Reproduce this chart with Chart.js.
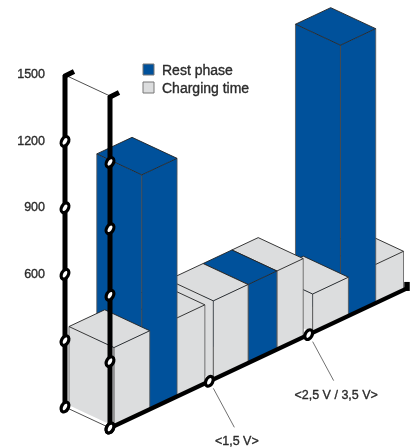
<!DOCTYPE html>
<html>
<head>
<meta charset="utf-8">
<style>
  html, body { margin: 0; padding: 0; background: #ffffff; }
  canvas { display: block; }
</style>
<script src="https://cdn.jsdelivr.net/npm/chart.js@4"></script>
</head>
<body>
<canvas id="chart" width="415" height="447"></canvas>
<script>
const categories = ['<1,5 V>', '<2,5 V / 3,5 V>', ''];
const chargingFront = [355, 355, 175];
const restPhase = [1076, 355, 1240];
const chargingBack = [355, 355, 175];
const yTickLabels = ['600', '900', '1200', '1500'];

// bar extents inside a category, as a fraction of the category width
const spansRegular = [[-0.46, -0.10], [-0.18, 0.175], [0.09, 0.455]];
const spansMiddle = [[-0.46, -0.11], [-0.11, 0.18], [0.18, 0.445]];
const barSpans = [spansRegular, spansMiddle, spansRegular];

const BLUE = '#00519b';
const GRAY = '#dcddde';
const TEXT = '#2b2b2b';
const FONT = 'Liberation Sans';
const DEPTH_X = 45;
const DEPTH_Y = 21;
const SLOPE = 0.47;

const polygon = (ctx, pts, fill) => {
    ctx.beginPath();
    pts.forEach((p, i) => i ? ctx.lineTo(p[0], p[1]) : ctx.moveTo(p[0], p[1]));
    ctx.closePath();
    ctx.fillStyle = fill;
    ctx.fill();
};

const line = (ctx, a, b, width, color) => {
    ctx.beginPath();
    ctx.moveTo(a[0], a[1]);
    ctx.lineTo(b[0], b[1]);
    ctx.lineWidth = width;
    ctx.strokeStyle = color;
    ctx.stroke();
};

const ring = (ctx, p) => {
    ctx.beginPath();
    ctx.ellipse(p[0], p[1], 3.4, 5.2, 0.5, 0, Math.PI * 2);
    ctx.fillStyle = '#ffffff';
    ctx.fill();
    ctx.lineWidth = 3.2;
    ctx.strokeStyle = '#000000';
    ctx.stroke();
};

// slightly heavier text, the reference print is denser than plain Liberation
const label = (ctx, text, px, py) => {
    ctx.lineWidth = 0.35;
    ctx.strokeStyle = TEXT;
    ctx.fillStyle = TEXT;
    ctx.strokeText(text, px, py);
    ctx.fillText(text, px, py);
};

const iso3d = {
    id: 'iso3d',
    // the bars are only drawn in the oblique view below
    beforeDatasetsDraw: () => false,
    afterDraw(chart) {
        const {ctx, scales: {x, y}, chartArea} = chart;
        const project = (px, py, d) => [
            px + d * DEPTH_X,
            py - (px - chartArea.left) * SLOPE + d * DEPTH_Y,
        ];
        const catWidth = x.getPixelForValue(1) - x.getPixelForValue(0);

        ctx.save();
        ctx.lineJoin = 'round';

        // floor edge under the first box
        line(ctx, project(chartArea.left, y.bottom, 0), project(chartArea.left, y.bottom, 1), 0.8, '#222222');

        // painter's order: right to left
        for (let i = categories.length - 1; i >= 0; i--) {
            for (let ds = chart.data.datasets.length - 1; ds >= 0; ds--) {
                const bar = chart.getDatasetMeta(ds).data[i];
                const color = chart.data.datasets[ds].backgroundColor;
                const left = bar.x + barSpans[i][ds][0] * catWidth;
                const right = bar.x + barSpans[i][ds][1] * catWidth;

                const backLeftBase = project(left, bar.base, 0);
                const frontLeftBase = project(left, bar.base, 1);
                const frontRightBase = project(right, bar.base, 1);
                const backLeft = project(left, bar.y, 0);
                const frontLeft = project(left, bar.y, 1);
                const frontRight = project(right, bar.y, 1);
                const backRight = project(right, bar.y, 0);

                polygon(ctx, [backLeft, frontLeft, frontLeftBase, backLeftBase], color);
                polygon(ctx, [frontLeft, frontRight, frontRightBase, frontLeftBase], color);
                polygon(ctx, [backLeft, backRight, frontRight, frontLeft], color);

                line(ctx, backLeft, backLeftBase, 0.8, '#555555');
                line(ctx, frontLeft, frontLeftBase, 0.9, '#444444');
                line(ctx, frontRight, frontRightBase, 0.8, '#555555');
                line(ctx, backLeft, frontLeft, 0.9, '#222222');
                line(ctx, frontLeft, frontRight, 0.9, '#222222');
                line(ctx, frontRight, backRight, 0.9, '#222222');
                line(ctx, backRight, backLeft, 0.9, '#222222');
            }
        }

        // the two upright axes
        const top = y.getPixelForValue(y.max);
        const zero = y.getPixelForValue(0);
        const backTop = project(chartArea.left, top, 0);
        const frontTop = project(chartArea.left, top, 1);
        line(ctx, backTop, frontTop, 0.8, '#222222');
        [0, 1].forEach(d => {
            const upper = project(chartArea.left, top, d);
            const lower = project(chartArea.left, zero, d);
            line(ctx, upper, lower, 5, '#000000');
            line(ctx, [upper[0] - 1, upper[1] + 1.5], [upper[0] + 9, upper[1] - 3.5], 5, '#000000');
        });

        // floor line along the categories
        const start = project(chartArea.left, zero, 1);
        const end = project(chartArea.right, zero, 1);
        line(ctx, start, end, 4.2, '#000000');
        line(ctx, [end[0] - 1, end[1] + 3], [end[0] - 1, end[1] - 6], 5.5, '#000000');

        // rings on the upright axes, nothing at the capped top
        y.ticks.forEach(t => {
            if (t.value >= y.max) return;
            const py = y.getPixelForValue(t.value);
            ring(ctx, project(chartArea.left, py, 0));
            ring(ctx, project(chartArea.left, py, 1));
        });

        // category boundaries with leader lines and labels
        ctx.textBaseline = 'middle';
        ring(ctx, start);
        for (let i = 0; i < categories.length - 1; i++) {
            const px = x.getPixelForValue(i) + catWidth / 2;
            const p = project(px, zero, 1);
            ring(ctx, p);
            line(ctx, [p[0] + 4, p[1] + 7], [p[0] + 25, p[1] + 46], 0.7, '#333333');
            ctx.font = '12.5px "' + FONT + '"';
            ctx.textAlign = 'center';
            label(ctx, categories[i], p[0] + 27.5, p[1] + 60.5);
        }

        // legend
        const legendLeft = 143;
        [1, 0].forEach((ds, row) => {
            const dataset = chart.data.datasets[ds];
            const rowY = 64 + row * 18;
            ctx.fillStyle = dataset.backgroundColor;
            ctx.fillRect(legendLeft, rowY, 11, 11);
            ctx.lineWidth = 1;
            ctx.strokeStyle = '#777777';
            ctx.strokeRect(legendLeft, rowY, 11, 11);
            ctx.font = '14px "' + FONT + '"';
            ctx.textAlign = 'left';
            label(ctx, dataset.label, legendLeft + 19, rowY + 7.5);
        });

        ctx.restore();
    },
};

new Chart(document.getElementById('chart'), {
    type: 'bar',
    data: {
        labels: categories,
        datasets: [
            {label: 'Charging time', data: chargingFront, backgroundColor: GRAY, grouped: false},
            {label: 'Rest phase', data: restPhase, backgroundColor: BLUE, grouped: false},
            {label: 'Charging time', data: chargingBack, backgroundColor: GRAY, grouped: false},
        ],
    },
    options: {
        responsive: false,
        animation: false,
        layout: {
            padding: {top: 75, bottom: 40, right: 52, left: 0},
        },
        scales: {
            x: {
                display: false,
            },
            y: {
                min: 0,
                max: 1500,
                afterFit: (scale) => {
                    scale.width = 65;
                },
                border: {
                    display: false,
                },
                grid: {
                    display: false,
                    drawTicks: false,
                },
                ticks: {
                    stepSize: 300,
                    padding: 20,
                    color: TEXT,
                    textStrokeColor: TEXT,
                    textStrokeWidth: 0.35,
                    font: {family: FONT, size: 12.5},
                    callback: (value) => yTickLabels.includes(String(value)) ? String(value) : '',
                },
            },
        },
        plugins: {
            legend: {display: false},
            tooltip: {enabled: false},
        },
    },
    plugins: [iso3d],
});
</script>
</body>
</html>
